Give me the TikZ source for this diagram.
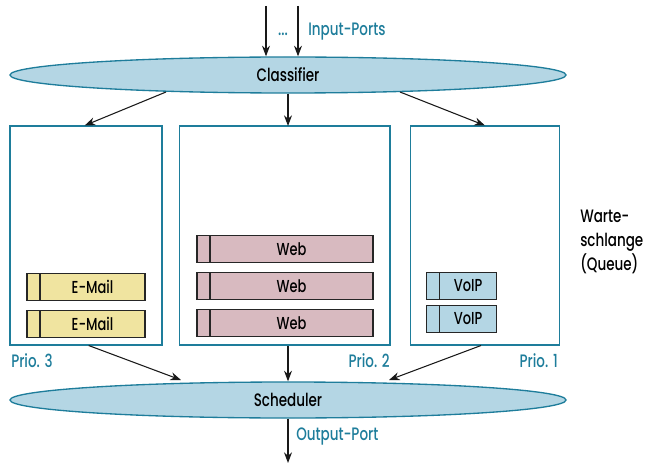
\documentclass[tikz,border=0pt]{standalone}
\usepackage{fontspec}
\setmainfont{Poppins}[UprightFont=* Medium, BoldFont=* SemiBold, FakeStretch=0.75]
\usetikzlibrary{shapes.geometric,arrows.meta}
\definecolor{teal1}{RGB}{30,125,155}
\definecolor{lblue}{RGB}{180,214,228}
\definecolor{mailc}{RGB}{240,228,160}
\definecolor{webc}{RGB}{216,186,192}
\tikzset{
  ell/.style={ellipse, draw=teal1, line width=1pt, fill=lblue, minimum width=417pt, minimum height=27pt, font=\fontsize{13.5}{15}\selectfont},
  qbox/.style={draw=teal1, line width=1pt, minimum height=164pt},
  pkt/.style={draw=black!85, line width=0.8pt, minimum height=20pt, inner sep=0pt, font=\fontsize{13}{15}\selectfont,
    path picture={\draw[black!85, line width=0.8pt] ([xshift=9.75pt]path picture bounding box.north west) -- ([xshift=9.75pt]path picture bounding box.south west);}},
  lab/.style={text=teal1, font=\fontsize{13.5}{15}\selectfont, inner sep=0pt},
  arr/.style={-{Stealth[length=8pt,width=6pt]}, line width=0.8pt, black!90},
}
\begin{document}
\begin{tikzpicture}[x=0.75pt,y=-0.75pt]
\useasboundingbox (0,0) rectangle (648,463);
% ellipses
\node[ell] (cls) at (288,75) {Classifier};
\node[ell] (sch) at (288,400) {Scheduler};
% input
\coordinate (in1) at (266,6);
\coordinate (in2) at (298,6);
\draw[arr] (in1) -- (in1 |- cls.north);
\draw[arr] (in2) -- (in2 |- cls.north);
\node[lab, anchor=base] (dots) at (283,36) {...};
\node[lab, anchor=base west] (inlab) at (308,36) {Input-Ports};
% queue boxes
\node[qbox, minimum width=114pt] (q3) at (86,235.5) {};
\node[qbox, minimum width=158pt] (q2) at (284.5,235.5) {};
\node[qbox, minimum width=112pt] (q1) at (485,235.5) {};
% classifier arrows
\coordinate (c3) at (166,92);
\coordinate (c1) at (400,92);
\coordinate (c2) at (288,126);
\draw[arr] (c3) -- ([xshift=-1pt]q3.north);
\draw[arr] (cls.south) -- (c2);
\draw[arr] (c1) -- (q1.north);
% packets
\node[pkt, minimum width=88.5pt, fill=mailc] (e1) at (86,287) {\hspace*{9.75pt}E-Mail};
\node[pkt, minimum width=88.5pt, fill=mailc] (e2) at (86,324) {\hspace*{9.75pt}E-Mail};
\node[pkt, minimum width=132pt, fill=webc] (w1) at (285,249) {\hspace*{9.75pt}Web};
\node[pkt, minimum width=132pt, fill=webc] (w2) at (285,286) {\hspace*{9.75pt}Web};
\node[pkt, minimum width=132pt, fill=webc] (w3) at (285,323) {\hspace*{9.75pt}Web};
\node[pkt, minimum width=53pt, fill=lblue] (v1) at (461.5,286) {\hspace*{9.75pt}VoIP};
\node[pkt, minimum width=53pt, fill=lblue] (v2) at (461.5,319) {\hspace*{9.75pt}VoIP};
% prio labels
\node[lab, anchor=west] (p3) at (11,361) {Prio. 3};
\node[lab, anchor=east] (p2) at (390,361) {Prio. 2};
\node[lab, anchor=east] (p1) at (558,361) {Prio. 1};
% scheduler arrows
\coordinate (s3) at (181,380);
\coordinate (s1) at (389,380);
\coordinate (b2) at (288,346);
\draw[arr] ([xshift=2pt]q3.south) -- (s3);
\draw[arr] (b2) -- (sch.north);
\draw[arr] ([xshift=-3pt]q1.south) -- (s1);
% output
\coordinate (out) at (288,463);
\draw[arr] (sch.south) -- (out);
\node[lab, anchor=west] (outlab) at (296,437) {Output-Port};
% queue label
\node[anchor=west, align=left, font=\fontsize{13.5}{18}\selectfont, inner sep=0pt] (ql) at (580,242) {Warte-\\schlange\\(Queue)};
\end{tikzpicture}
\end{document}
